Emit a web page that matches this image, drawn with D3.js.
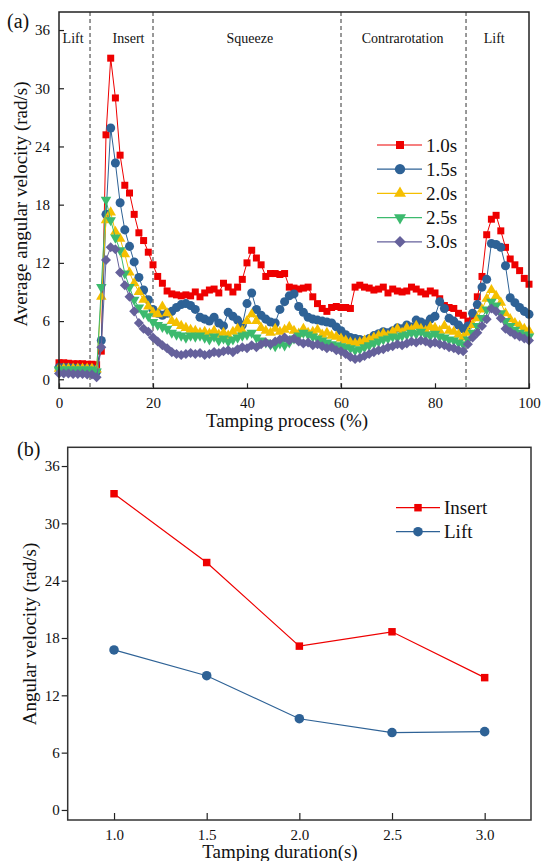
<!DOCTYPE html>
<head>
    <meta charset="utf-8">
    <title>Angular velocity during tamping</title>
    <style>
        body { margin: 0; background: #fff; }
        svg text { font-family: "Liberation Serif", Tinos, "Times New Roman", "DejaVu Serif", serif !important; fill: #111; }
    </style>
</head>
<body>

<svg width="542" height="861" font-family="Liberation Serif, Times New Roman, serif"></svg>

<script src="https://d3js.org/d3.v7.min.js"></script>

<script>

    // ---- data, panel (a): average angular velocity vs tamping process (%), one value per 1 %
    const durations = ["1.0s", "1.5s", "2.0s", "2.5s", "3.0s"];
    const v10 = [1.7,1.7,1.65,1.6,1.6,1.6,1.55,1.55,1.5,2.9,
        25.2,33.1,29.0,23.1,20.0,19.2,17.0,15.1,14.3,13.1,
        11.8,10.6,9.9,9.1,8.8,8.7,8.6,8.7,8.6,9.0,
        8.5,8.9,9.2,9.3,8.9,9.9,9.5,9.0,9.5,10.3,
        12.0,13.3,12.5,11.8,10.6,10.9,10.9,10.8,10.9,9.5,
        9.4,9.3,9.4,9.5,8.5,7.8,7.3,7.0,7.4,7.5,
        7.4,7.4,7.3,9.5,9.7,9.5,9.4,9.2,9.3,9.5,
        8.9,9.3,9.1,9.0,9.1,9.5,9.3,9.0,8.8,9.1,
        8.9,8.3,7.6,7.4,7.3,6.8,6.6,6.0,6.5,8.5,
        10.6,14.9,16.5,16.9,15.3,13.6,12.4,11.8,11.2,10.4,9.8];
    const v15 = [1.2,1.2,1.2,1.15,1.15,1.1,1.1,1.1,0.8,4.0,
        17.0,25.9,22.3,18.2,15.4,13.7,12.1,10.5,9.2,8.2,
        7.2,6.8,6.6,6.8,7.0,7.4,7.7,7.8,7.6,7.2,
        6.4,6.2,6.0,6.4,5.8,5.5,6.9,6.5,6.1,5.6,
        7.8,8.9,7.2,6.6,6.2,5.9,5.8,7.2,8.0,8.6,
        8.8,7.5,6.9,6.4,6.2,6.1,6.0,5.9,5.8,5.4,
        5.0,4.6,4.3,4.2,4.1,4.0,4.2,4.5,4.7,4.9,
        4.8,5.0,5.3,5.2,5.6,5.4,6.1,5.9,5.7,6.2,
        6.5,8.0,7.3,6.3,6.0,5.6,5.2,5.5,6.8,7.7,
        9.5,10.3,14.0,13.9,13.6,11.7,8.4,7.9,7.4,7.0,6.7];
    const v20 = [1.1,1.1,1.1,1.1,1.1,1.1,1.1,1.1,1.0,8.5,
        16.4,17.2,15.2,14.5,12.9,11.0,9.9,9.0,8.2,7.5,
        6.9,6.7,7.5,6.8,6.0,5.8,5.5,5.3,5.1,5.0,
        4.8,4.9,4.7,5.0,4.6,4.8,4.5,4.9,5.2,5.0,
        6.0,6.7,6.0,5.3,5.0,4.8,5.2,4.9,5.1,5.4,
        5.0,4.7,5.2,4.8,4.9,5.1,4.6,4.8,4.5,4.4,
        4.2,4.0,3.8,3.7,3.8,4.0,4.1,4.3,4.5,4.7,
        4.5,4.9,5.2,4.8,5.3,5.1,5.5,5.2,5.0,5.4,
        5.3,5.0,5.5,5.0,4.9,4.6,4.3,4.8,5.6,6.3,
        7.2,8.3,9.2,8.6,7.9,6.8,6.2,5.8,5.5,5.2,5.0];
    const v25 = [1.0,1.0,1.0,1.0,1.0,1.0,1.0,1.0,0.8,9.5,
        18.5,16.4,14.6,13.3,10.9,9.5,8.2,7.4,6.8,6.5,
        5.9,5.6,5.4,5.2,4.8,4.6,4.5,4.3,4.5,4.4,
        4.5,4.3,4.1,4.4,4.0,4.2,3.9,4.1,4.3,4.5,
        4.6,4.8,4.3,4.0,3.8,3.6,3.4,3.7,3.5,3.8,
        4.2,4.5,4.8,4.6,4.4,4.2,4.0,3.8,3.6,3.5,
        3.4,3.3,3.2,3.0,3.1,3.3,3.5,3.7,3.9,4.1,
        4.2,4.4,4.3,4.5,4.6,4.8,4.7,4.9,4.6,4.5,
        4.7,4.4,4.3,4.1,4.0,3.8,3.6,4.1,4.8,5.5,
        6.3,7.2,8.0,7.6,6.8,6.0,5.5,5.1,4.8,4.6,4.4];
    const v30 = [0.6,0.6,0.6,0.55,0.55,0.55,0.5,0.5,0.2,3.3,
        12.3,13.6,13.4,11.0,9.7,8.5,7.0,5.8,5.2,4.9,
        4.3,3.9,3.5,3.2,2.8,2.6,2.5,2.6,2.7,2.6,
        2.7,2.5,2.6,2.8,2.7,2.9,3.0,2.8,3.1,3.3,
        3.2,3.5,3.3,3.6,3.8,3.6,3.9,4.1,4.3,4.0,
        4.2,3.9,3.7,3.8,3.5,3.6,3.4,3.2,3.3,3.0,
        2.9,2.6,2.3,2.1,2.2,2.4,2.6,2.8,3.0,3.1,
        3.3,3.4,3.6,3.5,3.7,3.9,3.8,4.0,3.9,3.7,
        3.8,3.6,3.5,3.3,3.2,3.0,2.9,3.6,4.3,4.8,
        5.5,6.2,7.3,7.0,6.3,5.2,4.9,4.6,4.4,4.2,4.0];
    const processSeries = [v10, v15, v20, v25, v30];

    // phase boundaries (%) and phase labels
    const phaseBounds = [6.6, 20, 60, 86.6];
    const phaseNames = ["Lift", "Insert", "Squeeze", "Contrarotation", "Lift"];
    const phaseLabelAt = [3.0, 14.8, 40.6, 73.1, 92.6];

    // ---- data, panel (b): peak angular velocity vs tamping duration
    const tampDurations = [1.0, 1.5, 2.0, 2.5, 3.0];
    const insertPeak = [33.1, 25.9, 17.15, 18.65, 13.85];
    const liftPeak = [16.75, 14.05, 9.55, 8.1, 8.2];

    const yTicks = [0, 6, 12, 18, 24, 30, 36];

    const colors = ["#ee0000", "#2e6296", "#f5bf00", "#3cba6e", "#65619b"];
    const triDown = {
        draw(ctx, size) {
            const s = Math.sqrt(size / (Math.sqrt(3) / 4));
            const h = s * Math.sqrt(3) / 2;
            ctx.moveTo(0, h * 2 / 3);
            ctx.lineTo(s / 2, -h / 3);
            ctx.lineTo(-s / 2, -h / 3);
            ctx.closePath();
        }
    };
    const shapes = [d3.symbolSquare, d3.symbolCircle, d3.symbolTriangle, triDown, d3.symbolDiamond2];
    const sizes = [49, 64, 48, 48, 64];

    const svg = d3.select("svg");
    const serif = "'Liberation Serif', 'Times New Roman', serif";

    // ================= panel (a) =================
    const xA = d3.scaleLinear().domain([0, 100]).range([59, 529]);
    const yA = d3.scaleLinear().domain([-0.93, 37.86]).range([388.3, 12]);

    const gA = svg.append("g");

    // dashed phase separators
    gA.selectAll(".phase")
        .data(phaseBounds)
        .enter().append("line")
            .attr("x1", d => xA(d)).attr("x2", d => xA(d))
            .attr("y1", yA.range()[1]).attr("y2", yA.range()[0])
            .attr("stroke", "#333").attr("stroke-width", 1)
            .attr("stroke-dasharray", "4,3");

    gA.selectAll(".phaseLabel")
        .data(phaseNames)
        .enter().append("text")
            .attr("x", (d, i) => xA(phaseLabelAt[i]))
            .attr("y", 43)
            .attr("text-anchor", "middle")
            .style("font-size", "14px")
            .text(d => d);

    const lineA = d3.line().x((d, i) => xA(i)).y(d => yA(d));

    processSeries.forEach(function(vals, k) {
        const s = gA.append("g");
        s.append("path")
            .attr("d", lineA(vals))
            .attr("fill", "none")
            .attr("stroke", colors[k])
            .attr("stroke-width", 1);
        s.selectAll("path.m")
            .data(vals)
            .enter().append("path")
                .attr("class", "m")
                .attr("transform", (d, i) => "translate(" + xA(i) + "," + yA(d) + ")")
                .attr("d", d3.symbol(shapes[k], sizes[k]))
                .attr("fill", colors[k]);
    });

    // axes, ticks pointing inward
    gA.append("g")
        .attr("transform", "translate(0," + yA.range()[0] + ")")
        .call(d3.axisBottom(xA).tickValues([0, 20, 40, 60, 80, 100]).tickSizeInner(-5).tickSizeOuter(0).tickPadding(9))
        .call(g => g.select(".domain").remove());
    gA.append("g")
        .attr("transform", "translate(" + xA.range()[0] + ",0)")
        .call(d3.axisLeft(yA).tickValues(yTicks).tickSizeInner(-5).tickSizeOuter(0).tickPadding(9))
        .call(g => g.select(".domain").remove());

    gA.append("rect")
        .attr("x", xA.range()[0]).attr("y", yA.range()[1])
        .attr("width", xA.range()[1] - xA.range()[0])
        .attr("height", yA.range()[0] - yA.range()[1])
        .attr("fill", "none").attr("stroke", "#222").attr("stroke-width", 1.5);

    gA.append("text")
        .attr("x", 287).attr("y", 427)
        .attr("text-anchor", "middle")
        .style("font-size", "19px")
        .text("Tamping process (%)");
    gA.append("text")
        .attr("transform", "translate(27,204) rotate(-90)")
        .attr("text-anchor", "middle")
        .style("font-size", "19px")
        .text("Average angular velocity (rad/s)");
    svg.append("text")
        .attr("x", 7).attr("y", 28)
        .style("font-size", "20px")
        .text("(a)");

    // legend (a)
    const legA = gA.selectAll(".legA")
        .data(durations)
        .enter().append("g")
            .attr("transform", (d, i) => "translate(0," + (145 + i * 24.2) + ")");
    legA.append("line")
        .attr("x1", 377).attr("x2", 422)
        .attr("stroke", (d, i) => colors[i]).attr("stroke-width", 1.2);
    legA.append("path")
        .attr("transform", "translate(400,0)")
        .attr("d", (d, i) => d3.symbol(shapes[i], sizes[i] * 1.3)())
        .attr("fill", (d, i) => colors[i]);
    legA.append("text")
        .attr("x", 426).attr("y", 6.5)
        .style("font-size", "19px")
        .text(d => d);

    // ================= panel (b) =================
    const xB = d3.scaleLinear().domain([0.75, 3.25]).range([67.7, 531]);
    const yB = d3.scaleLinear().domain([-1.05, 37.96]).range([820, 447.3]);
    const gB = svg.append("g");

    gB.append("g")
        .attr("transform", "translate(0," + yB.range()[0] + ")")
        .call(d3.axisBottom(xB).tickValues(tampDurations).tickFormat(d3.format(".1f")).tickSizeInner(-7).tickSizeOuter(0).tickPadding(9))
        .call(g => g.select(".domain").remove());
    gB.append("g")
        .attr("transform", "translate(" + xB.range()[0] + ",0)")
        .call(d3.axisLeft(yB).tickValues(yTicks).tickSizeInner(6).tickSizeOuter(0).tickPadding(2))
        .call(g => g.select(".domain").remove());

    gB.append("rect")
        .attr("x", xB.range()[0]).attr("y", yB.range()[1])
        .attr("width", xB.range()[1] - xB.range()[0])
        .attr("height", yB.range()[0] - yB.range()[1])
        .attr("fill", "none").attr("stroke", "#333").attr("stroke-width", 1.5);

    const peakSeries = [
        { name: "Insert", values: insertPeak, color: colors[0], shape: d3.symbolSquare, size: 56 },
        { name: "Lift", values: liftPeak, color: colors[1], shape: d3.symbolCircle, size: 72 }
    ];
    const lineB = d3.line().x((d, i) => xB(tampDurations[i])).y(d => yB(d));

    peakSeries.forEach(function(s) {
        gB.append("path")
            .attr("d", lineB(s.values))
            .attr("fill", "none").attr("stroke", s.color).attr("stroke-width", 1.2);
        gB.selectAll(null)
            .data(s.values)
            .enter().append("path")
                .attr("transform", (d, i) => "translate(" + xB(tampDurations[i]) + "," + yB(d) + ")")
                .attr("d", d3.symbol(s.shape, s.size))
                .attr("fill", s.color);
    });

    const legB = gB.selectAll(".legB")
        .data(peakSeries)
        .enter().append("g")
            .attr("transform", (d, i) => "translate(0," + (507.7 + i * 24) + ")");
    legB.append("line")
        .attr("x1", 396).attr("x2", 440)
        .attr("stroke", d => d.color).attr("stroke-width", 1.2);
    legB.append("path")
        .attr("transform", "translate(418,0)")
        .attr("d", d => d3.symbol(d.shape, d.size)())
        .attr("fill", d => d.color);
    legB.append("text")
        .attr("x", 444).attr("y", 6.5)
        .style("font-size", "19px")
        .text(d => d.name);

    gB.append("text")
        .attr("x", 280).attr("y", 858)
        .attr("text-anchor", "middle")
        .style("font-size", "19px")
        .text("Tamping duration(s)");
    gB.append("text")
        .attr("transform", "translate(36,634) rotate(-90)")
        .attr("text-anchor", "middle")
        .style("font-size", "19px")
        .text("Angular velocity (rad/s)");
    svg.append("text")
        .attr("x", 17).attr("y", 456)
        .style("font-size", "20px")
        .text("(b)");

    svg.selectAll(".tick text").style("font-size", "15px").attr("fill", "#111");
    svg.selectAll(".tick line").attr("stroke", "#222").attr("stroke-width", 1.2);
    svg.selectAll("text").style("font-family", serif);

</script>

</body>
